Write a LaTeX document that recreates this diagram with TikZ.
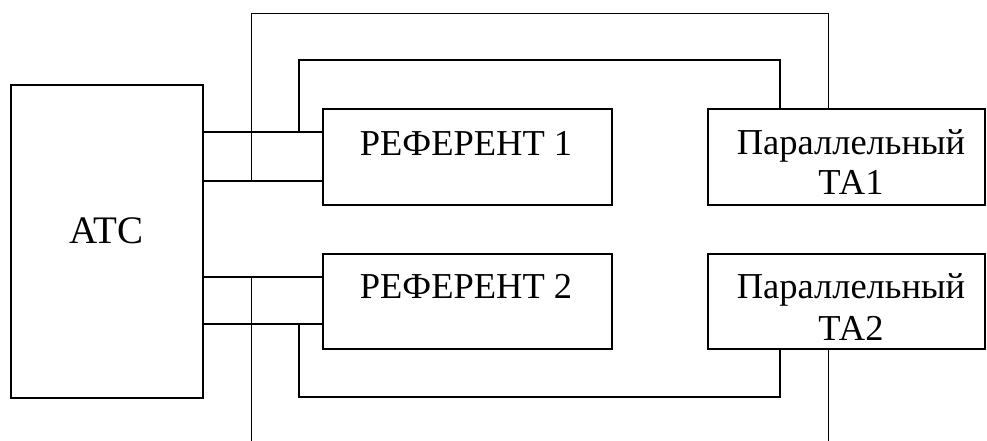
\documentclass[tikz,border=0pt]{standalone}
\usepackage{fontspec}
\setmainfont{Liberation Serif}
\begin{document}
\begin{tikzpicture}[x=1pt,y=-1pt,
  box/.style={draw,line width=1.4pt,inner sep=0pt,minimum width=#1},
  thick wire/.style={line width=1.4pt},
  thin wire/.style={line width=0.8pt},
  lbl/.style={anchor=base,inner sep=0pt,font=\fontsize{36.5}{40}\selectfont}]
\useasboundingbox (0,0) rectangle (987,441);
% boxes
\node[box=192pt,minimum height=313pt] (atc) at (107,241.5) {};
\node[box=289pt,minimum height=96pt] (ref1) at (467.5,157) {};
\node[box=289pt,minimum height=95pt] (ref2) at (467.5,301.5) {};
\node[box=277pt,minimum height=96pt] (ta1) at (846.5,157) {};
\node[box=277pt,minimum height=95pt] (ta2) at (846.5,301.5) {};
% labels
\node[lbl,font=\fontsize{39}{42}\selectfont] (tatc) at (106.5,243) {АТС};
\node[lbl] (tref1) at (466,155) {РЕФЕРЕНТ 1};
\node[lbl] (tref2) at (466,298) {РЕФЕРЕНТ 2};
\node[lbl] (tta1a) at (851,154) {Параллельный};
\node[lbl] (tta1b) at (851,194) {ТА1};
\node[lbl] (tta2a) at (851,298) {Параллельный};
\node[lbl] (tta2b) at (851,340) {ТА2};
% coordinates
\coordinate (top) at (251,13);
\coordinate (topR) at (828,13);
\coordinate (botL) at (251,441);
\coordinate (botR) at (828,441);
\coordinate (up1) at (299,60);
\coordinate (up2) at (780,60);
\coordinate (lo1) at (299,397);
\coordinate (lo2) at (780,397);
% ATC to referents
\draw[thick wire] (atc.east |- 0,132) -- (ref1.west |- 0,132);
\draw[thick wire] (atc.east |- 0,181) -- (ref1.west |- 0,181);
\draw[thick wire] (atc.east |- 0,277) -- (ref2.west |- 0,277);
\draw[thick wire] (atc.east |- 0,324) -- (ref2.west |- 0,324);
% referent loops to parallel sets
\draw[thick wire] (up1 |- 0,132) -- (up1) -- (up2) -- (up2 |- ta1.north);
\draw[thick wire] (lo1 |- 0,324) -- (lo1) -- (lo2) -- (lo2 |- ta2.south);
% thin lines
\draw[thin wire] (top |- 0,181) -- (top) -- (topR) -- (topR |- ta1.north);
\draw[thin wire] (botL |- 0,277) -- (botL);
\draw[thin wire] (botR |- ta2.south) -- (botR);
\end{tikzpicture}
\end{document}
